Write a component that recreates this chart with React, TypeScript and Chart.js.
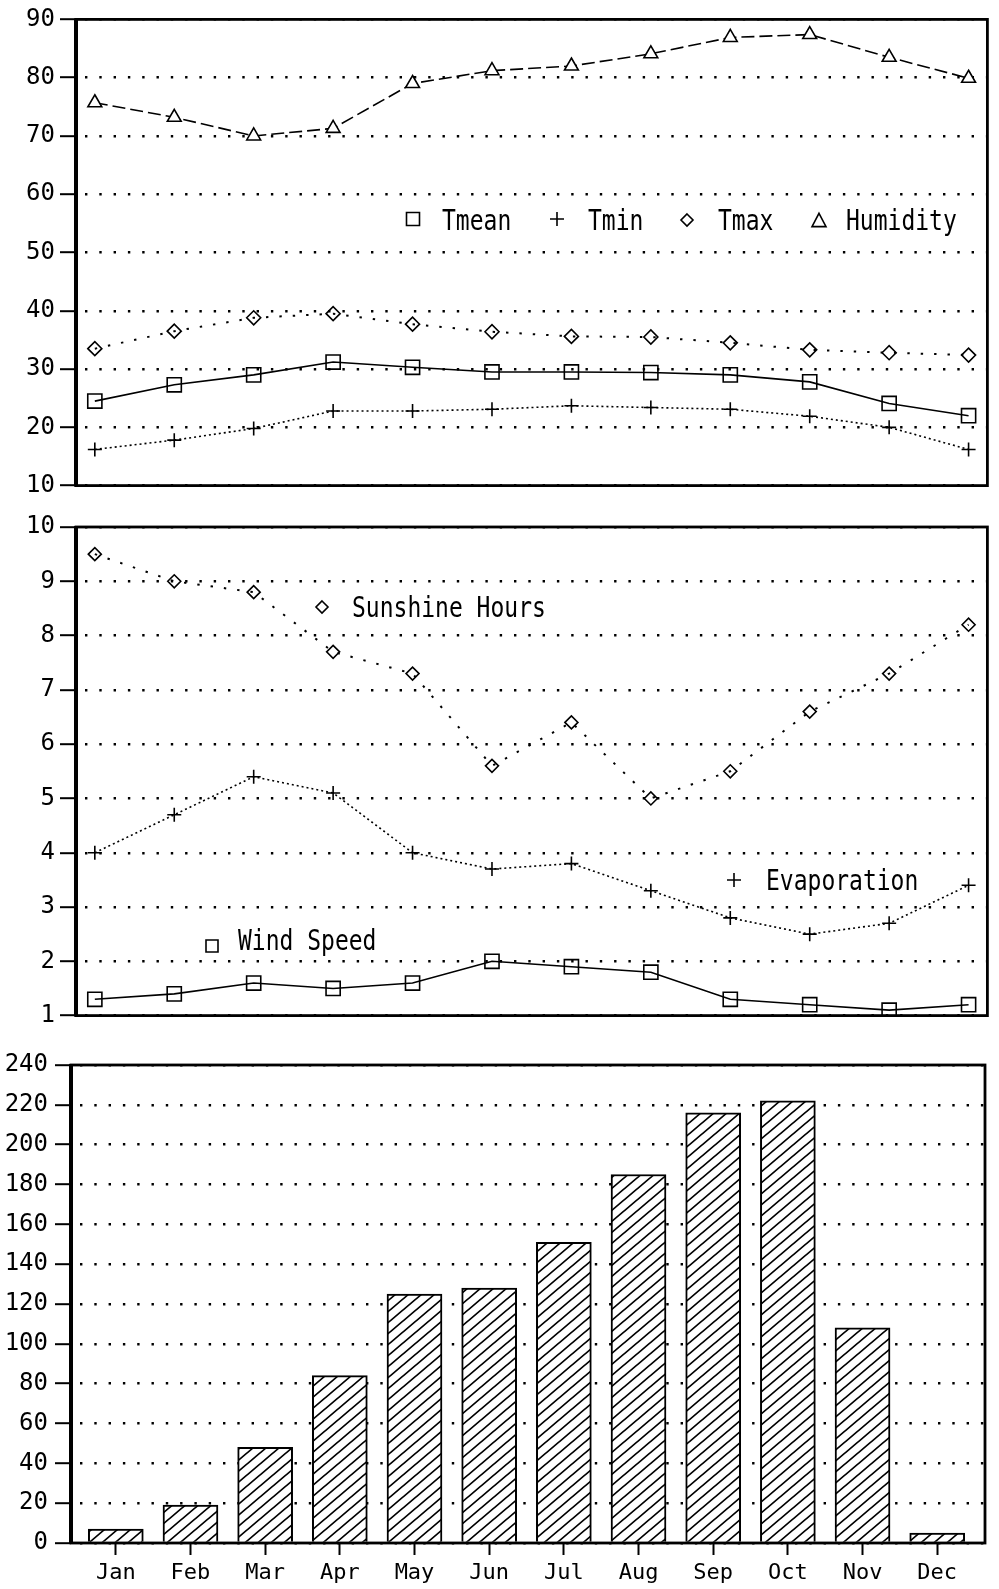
import React, { useEffect, useRef } from 'react';
import { Chart, registerables } from 'chart.js';

Chart.register(...registerables);

// ---------- data ----------
const months = ['Jan', 'Feb', 'Mar', 'Apr', 'May', 'Jun', 'Jul', 'Aug', 'Sep', 'Oct', 'Nov', 'Dec'];

const tmean = [24.5, 27.3, 29.0, 31.2, 30.3, 29.5, 29.5, 29.4, 29.0, 27.8, 24.1, 22.0];
const tmin = [16.2, 17.8, 19.8, 22.8, 22.8, 23.1, 23.7, 23.4, 23.1, 21.9, 20.0, 16.2];
const tmax = [33.5, 36.5, 38.8, 39.5, 37.7, 36.4, 35.6, 35.5, 34.5, 33.3, 32.8, 32.4];
const humidity = [75.7, 73.2, 70.0, 71.3, 79.0, 81.2, 82.0, 84.1, 86.9, 87.4, 83.5, 79.9];

const sunshine = [9.5, 9.0, 8.8, 7.7, 7.3, 5.6, 6.4, 5.0, 5.5, 6.6, 7.3, 8.2];
const evaporation = [4.0, 4.7, 5.4, 5.1, 4.0, 3.7, 3.8, 3.3, 2.8, 2.5, 2.7, 3.4];
const windSpeed = [1.3, 1.4, 1.6, 1.5, 1.6, 2.0, 1.9, 1.8, 1.3, 1.2, 1.1, 1.2];

const rainfall = [7, 19, 48, 84, 125, 128, 151, 185, 216, 222, 108, 5];

const tempAxis = [10, 90, 10]; // min, max, step
const hoursAxis = [1, 10, 1];
const rainAxis = [0, 240, 20];

const names1 = ['Tmean', 'Tmin', 'Tmax', 'Humidity'];
const names2 = ['Sunshine Hours', 'Evaporation', 'Wind Speed'];

// ---------- helpers ----------
const FONT = '"DejaVu Sans Mono", "Liberation Mono", monospace';

const pts = (vals: number[]) => vals.map((v, i) => ({ x: i + 1, y: v }));

function drawMarker(ctx: CanvasRenderingContext2D, kind: string, x: number, y: number, s: number) {
  ctx.save();
  ctx.strokeStyle = '#000';
  ctx.lineWidth = 1.6;
  ctx.beginPath();
  if (kind === 'rect') {
    ctx.rect(x - s / 2, y - s / 2, s, s);
  } else if (kind === 'cross') {
    ctx.moveTo(x - s / 2, y);
    ctx.lineTo(x + s / 2, y);
    ctx.moveTo(x, y - s / 2);
    ctx.lineTo(x, y + s / 2);
  } else if (kind === 'diamond') {
    ctx.moveTo(x, y - s / 2);
    ctx.lineTo(x + s / 2, y);
    ctx.lineTo(x, y + s / 2);
    ctx.lineTo(x - s / 2, y);
    ctx.closePath();
  } else if (kind === 'triangle') {
    ctx.moveTo(x, y - s * 0.55);
    ctx.lineTo(x + s / 2, y + s * 0.4);
    ctx.lineTo(x - s / 2, y + s * 0.4);
    ctx.closePath();
  }
  ctx.stroke();
  ctx.restore();
}

const framePlugin = {
  id: 'frame',
  afterDraw(chart: any) {
    const { ctx, chartArea: a } = chart;
    ctx.save();
    ctx.strokeStyle = '#000';
    ctx.lineWidth = 2.8;
    ctx.strokeRect(a.left, a.top, a.right - a.left, a.bottom - a.top);
    ctx.lineWidth = 4;
    ctx.beginPath();
    ctx.moveTo(a.left, a.top - 1);
    ctx.lineTo(a.left, a.bottom + 1);
    ctx.stroke();
    ctx.restore();
  },
};

const notesPlugin = {
  id: 'notes',
  afterDraw(chart: any, _args: any, opts: any) {
    const items = (opts && opts.items) || [];
    const ctx = chart.ctx as CanvasRenderingContext2D;
    for (const it of items) {
      drawMarker(ctx, it.marker, it.mx, it.my, it.size);
      ctx.save();
      ctx.translate(it.tx, it.ty);
      ctx.scale(1, 1.2);
      ctx.font = `23px ${FONT}`;
      ctx.fillStyle = '#000';
      ctx.textBaseline = 'alphabetic';
      ctx.textAlign = 'left';
      ctx.fillText(it.text, 0, 0);
      ctx.restore();
    }
  },
};

function yAxis(range: number[], width: number, tickLen: number, pad: number) {
  return {
    type: 'linear',
    min: range[0],
    max: range[1],
    ticks: {
      stepSize: range[2],
      color: '#000',
      font: { family: FONT, size: 24 },
      padding: pad,
    },
    grid: {
      color: '#000',
      lineWidth: 2.4,
      drawTicks: true,
      tickLength: tickLen,
      tickWidth: 2,
      tickColor: '#000',
    },
    border: { display: false, dash: [2.4, 11.9], dashOffset: -9 },
    afterFit: (s: any) => {
      s.width = width;
    },
  };
}

function lineDs(label: string, vals: number[], style: string, radius: number, dash: number[], fill: string, width = 1.6) {
  return {
    type: 'line',
    label,
    data: pts(vals),
    borderColor: '#000',
    borderWidth: width,
    borderDash: dash,
    pointStyle: style,
    pointRadius: radius,
    pointHoverRadius: radius,
    pointBorderColor: '#000',
    pointBackgroundColor: fill,
    pointBorderWidth: 1.6,
    tension: 0,
    fill: false,
  };
}

const T1 = 0;
const T2 = 505;
const T3 = 1035;

function cfg1(): any {
  return {
    type: 'line',
    data: {
      datasets: [
        lineDs(names1[0], tmean, 'rect', 10, [], 'rgba(255,255,255,0)'),
        lineDs(names1[1], tmin, 'cross', 7, [2, 3], 'rgba(255,255,255,0)'),
        lineDs(names1[2], tmax, 'rectRot', 7, [2.4, 11], 'rgba(255,255,255,0)', 2),
        lineDs(names1[3], humidity, 'triangle', 8, [13, 5], '#fff'),
      ],
    },
    options: {
      responsive: false,
      animation: false,
      devicePixelRatio: 1,
      layout: { padding: { left: 0, top: 11 - T1, right: 3, bottom: 14 } },
      scales: {
        x: { type: 'linear', display: false, min: 0.763, max: 12.237 },
        y: yAxis(tempAxis, 76, 16, 5),
      },
      plugins: {
        legend: { display: false },
        tooltip: { enabled: false },
        notes: {
          items: [
            { marker: 'rect', mx: 413, my: 219 - T1, size: 13, text: names1[0], tx: 442, ty: 230 - T1 },
            { marker: 'cross', mx: 557, my: 219 - T1, size: 14, text: names1[1], tx: 588, ty: 230 - T1 },
            { marker: 'diamond', mx: 687, my: 220 - T1, size: 12, text: names1[2], tx: 718, ty: 230 - T1 },
            { marker: 'triangle', mx: 819, my: 221 - T1, size: 14, text: names1[3], tx: 846, ty: 230 - T1 },
          ],
        },
      },
    },
    plugins: [framePlugin, notesPlugin],
  };
}

function cfg2(): any {
  return {
    type: 'line',
    data: {
      datasets: [
        lineDs(names2[0], sunshine, 'rectRot', 6.5, [2.4, 11], 'rgba(255,255,255,0)', 2),
        lineDs(names2[1], evaporation, 'cross', 7, [2, 3], 'rgba(255,255,255,0)'),
        lineDs(names2[2], windSpeed, 'rect', 10, [], 'rgba(255,255,255,0)'),
      ],
    },
    options: {
      responsive: false,
      animation: false,
      devicePixelRatio: 1,
      layout: { padding: { left: 0, top: 527 - T2, right: 3, bottom: 530 - (1022 - T2) } },
      scales: {
        x: { type: 'linear', display: false, min: 0.763, max: 12.237 },
        y: yAxis(hoursAxis, 76, 16, 5),
      },
      plugins: {
        legend: { display: false },
        tooltip: { enabled: false },
        notes: {
          items: [
            { marker: 'diamond', mx: 322, my: 607 - T2, size: 12, text: names2[0], tx: 352, ty: 617 - T2 },
            { marker: 'cross', mx: 734, my: 880 - T2, size: 14, text: names2[1], tx: 766, ty: 890 - T2 },
            { marker: 'rect', mx: 212, my: 946 - T2, size: 12, text: names2[2], tx: 238, ty: 950 - T2 },
          ],
        },
      },
    },
    plugins: [framePlugin, notesPlugin],
  };
}

function makeHatch(): any {
  const c = document.createElement('canvas');
  const w = 13;
  const h = 11;
  c.width = w;
  c.height = h;
  const g = c.getContext('2d') as CanvasRenderingContext2D;
  g.fillStyle = '#fff';
  g.fillRect(0, 0, w, h);
  g.strokeStyle = '#000';
  g.lineWidth = 1.7;
  const dx = 2;
  const dy = (dx * h) / w;
  g.beginPath();
  g.moveTo(0, h);
  g.lineTo(w, 0);
  g.moveTo(-dx, dy);
  g.lineTo(dx, -dy);
  g.moveTo(w - dx, h + dy);
  g.lineTo(w + dx, h - dy);
  g.stroke();
  return g.createPattern(c, 'repeat');
}

function cfg3(): any {
  return {
    type: 'bar',
    data: {
      datasets: [
        {
          label: 'Rainfall',
          data: pts(rainfall),
          backgroundColor: makeHatch(),
          borderColor: '#000',
          borderWidth: 2,
          barThickness: 55,
        },
      ],
    },
    options: {
      responsive: false,
      animation: false,
      devicePixelRatio: 1,
      layout: { padding: { left: 0, top: 1065 - T3, right: 14, bottom: 0 } },
      scales: {
        x: {
          type: 'linear',
          min: 0.4,
          max: 12.64,
          offset: false,
          afterBuildTicks: (s: any) => {
            s.ticks = months.map((_, i) => ({ value: i + 1 }));
          },
          afterFit: (s: any) => {
            s.height = 1589 - 1543;
          },
          ticks: {
            autoSkip: false,
            maxRotation: 0,
            color: '#000',
            font: { family: FONT, size: 22 },
            padding: 5,
            callback: (v: any) => months[Math.round(v) - 1],
          },
          grid: {
            display: true,
            offset: false,
            drawOnChartArea: false,
            drawTicks: true,
            tickLength: 12,
            tickWidth: 2,
            tickColor: '#000',
            color: '#000',
          },
          border: { display: false },
        },
        y: yAxis(rainAxis, 71, 16, 7),
      },
      plugins: {
        legend: { display: false },
        tooltip: { enabled: false },
      },
    },
    plugins: [framePlugin],
  };
}

export default function App() {
  const r1 = useRef<HTMLCanvasElement>(null);
  const r2 = useRef<HTMLCanvasElement>(null);
  const r3 = useRef<HTMLCanvasElement>(null);

  useEffect(() => {
    const charts = [
      new Chart(r1.current as HTMLCanvasElement, cfg1()),
      new Chart(r2.current as HTMLCanvasElement, cfg2()),
      new Chart(r3.current as HTMLCanvasElement, cfg3()),
    ];
    return () => charts.forEach((c) => c.destroy());
  }, []);

  return (
    <div style={{ position: 'absolute', left: 0, top: 0, width: 999, height: 1589, background: '#fff', overflow: 'hidden' }}>
      <canvas ref={r1} width={999} height={T2 - T1} style={{ position: 'absolute', left: 0, top: T1 }} />
      <canvas ref={r2} width={999} height={T3 - T2} style={{ position: 'absolute', left: 0, top: T2 }} />
      <canvas ref={r3} width={999} height={1589 - T3} style={{ position: 'absolute', left: 0, top: T3 }} />
    </div>
  );
}
